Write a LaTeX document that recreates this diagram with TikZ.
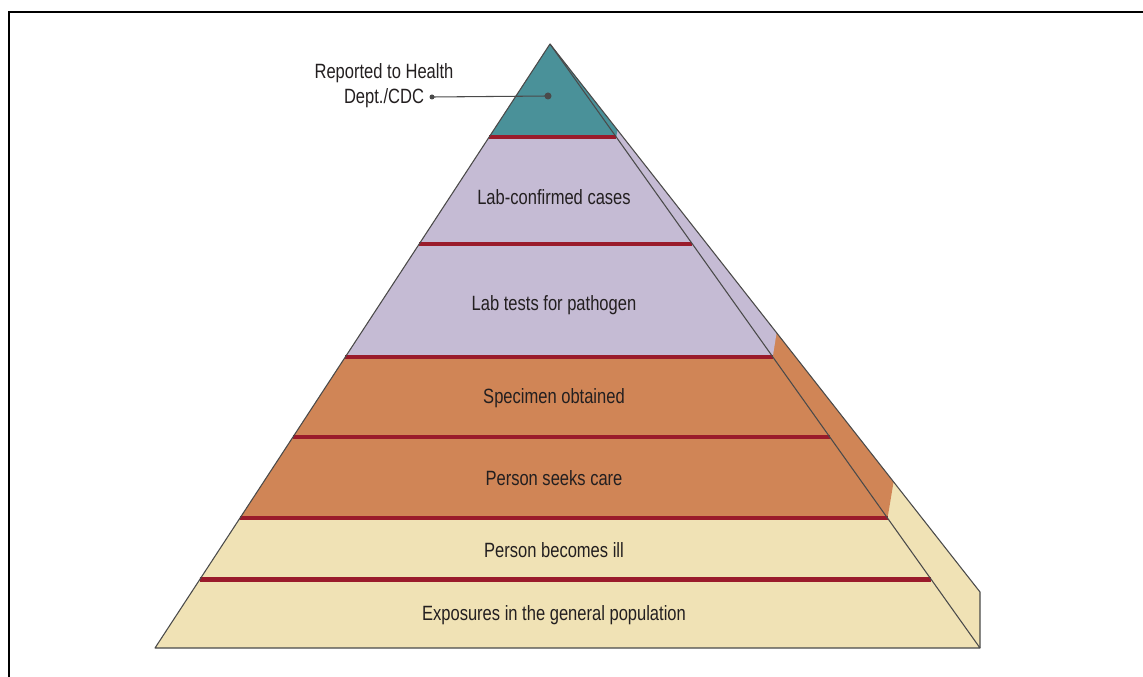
\documentclass[tikz,border=0pt]{standalone}
\usepackage{fontspec}
\setmainfont[FakeStretch=0.8]{Liberation Sans}
\usetikzlibrary{calc}

\definecolor{tealc}{HTML}{4A9199}
\definecolor{lavc}{HTML}{C5BBD4}
\definecolor{orc}{HTML}{D08556}
\definecolor{yelc}{HTML}{F0E2B5}
\definecolor{redc}{HTML}{9A1B2B}
\definecolor{edgec}{HTML}{4A4A4A}
\definecolor{inkc}{HTML}{231F20}

\begin{document}
\begin{tikzpicture}[x=0.75pt,y=-0.75pt,
  band/.style={font=\fontsize{15.5}{18.75}\selectfont,text=inkc},
  redline/.style={redc,line width=3.4pt},
  edge/.style={edgec,line width=0.8pt,line join=round},
  callout/.style={edgec,line width=0.8pt}]
\useasboundingbox (0,0) rectangle (1143,677);
\draw[line width=2pt] (9,677) -- (9,12) -- (1143,12);

\coordinate (A) at (550,44);
\coordinate (L) at (155,648);
\coordinate (R) at (980,648);
\coordinate (O) at (980,592);

% base colour, front and side
\fill[yelc] (A) -- (L) -- (R) -- (O) -- cycle;
\foreach \c/\t/\s in {orc/0.785/0.799,lavc/0.518/0.527,tealc/0.154/0.157}
  \fill[\c] (A) -- ($(A)!\t!(L)$) -- ($(A)!\t!(R)$) -- ($(A)!\s!(O)$) -- cycle;

% level separators
\foreach \t in {0.154,0.331,0.518,0.651,0.785,0.887}
  \draw[redline] ($(A)!\t!(L)$) -- ($(A)!\t!(R)$);

\draw[edge] (L) -- (A) -- (R) -- cycle;
\draw[edge] (A) -- (O) -- (R);

\node[band] (confirmed) at (554,197) {Lab-confirmed cases};
\node[band] (tests) at (554,305) {Lab tests for pathogen};
\node[band] (specimen) at (554,398) {Specimen obtained};
\node[band] (care) at (554,478) {Person seeks care};
\node[band] (ill) at (554,550) {Person becomes ill};
\node[band] (exposure) at (554,615) {Exposures in the general population};

\node[band,align=center] (reported) at (384,86) {Reported to Health\\Dept./CDC};
\coordinate (foot) at (432,97);
\coordinate (tip) at (548,96);
\draw[callout] (foot) -- (tip);
\fill[edgec] (foot) circle (2.5) (tip) circle (3.5);
\end{tikzpicture}
\end{document}
